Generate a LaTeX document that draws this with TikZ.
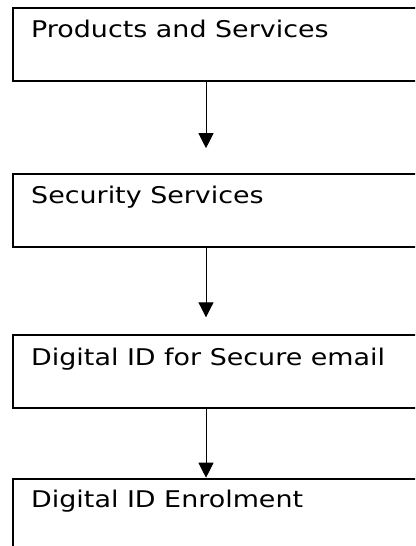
\documentclass[tikz,border=0pt]{standalone}
\usepackage{fontspec}
\setmainfont[FakeStretch=1.17]{DejaVu Sans}
\usetikzlibrary{arrows.meta}

\begin{document}
\begin{tikzpicture}[x=1pt, y=-1pt,
    box/.style={draw, line width=2pt, minimum width=410pt, minimum height=73pt, inner sep=0pt, anchor=north west},
    lbl/.style={anchor=base west, inner sep=0pt, font=\fontsize{23}{27}\selectfont},
    arr/.style={-{Triangle[width=15pt,length=15pt]}, line width=1pt}]

    \useasboundingbox (0,0) rectangle (415,546);
    \clip (0,0) rectangle (415,546);

    \node[box] (a) at (12,7) {};
    \node[box] (b) at (12,172.7) {};
    \node[box] (c) at (12,334) {};
    \node[box] (d) at (12,477.7) {};

    \node[lbl] (ta) at ([shift={(19,30)}]a.north west) {Products and Services};
    \node[lbl] (tb) at ([shift={(19,30.5)}]b.north west) {Security Services};
    \node[lbl] (tc) at ([shift={(19,31)}]c.north west) {Digital ID for Secure email};
    \node[lbl] (td) at ([shift={(19,29.5)}]d.north west) {Digital ID Enrolment};

    \draw [arr, shorten >=24.5pt] ([xshift=-12pt]a.south) -- ([xshift=-12pt]b.north);
    \draw [arr, shorten >=16.7pt] ([xshift=-12pt]b.south) -- ([xshift=-12pt]c.north);
    \draw [arr] ([xshift=-12pt]c.south) -- ([xshift=-12pt]d.north);

\end{tikzpicture}
\end{document}
